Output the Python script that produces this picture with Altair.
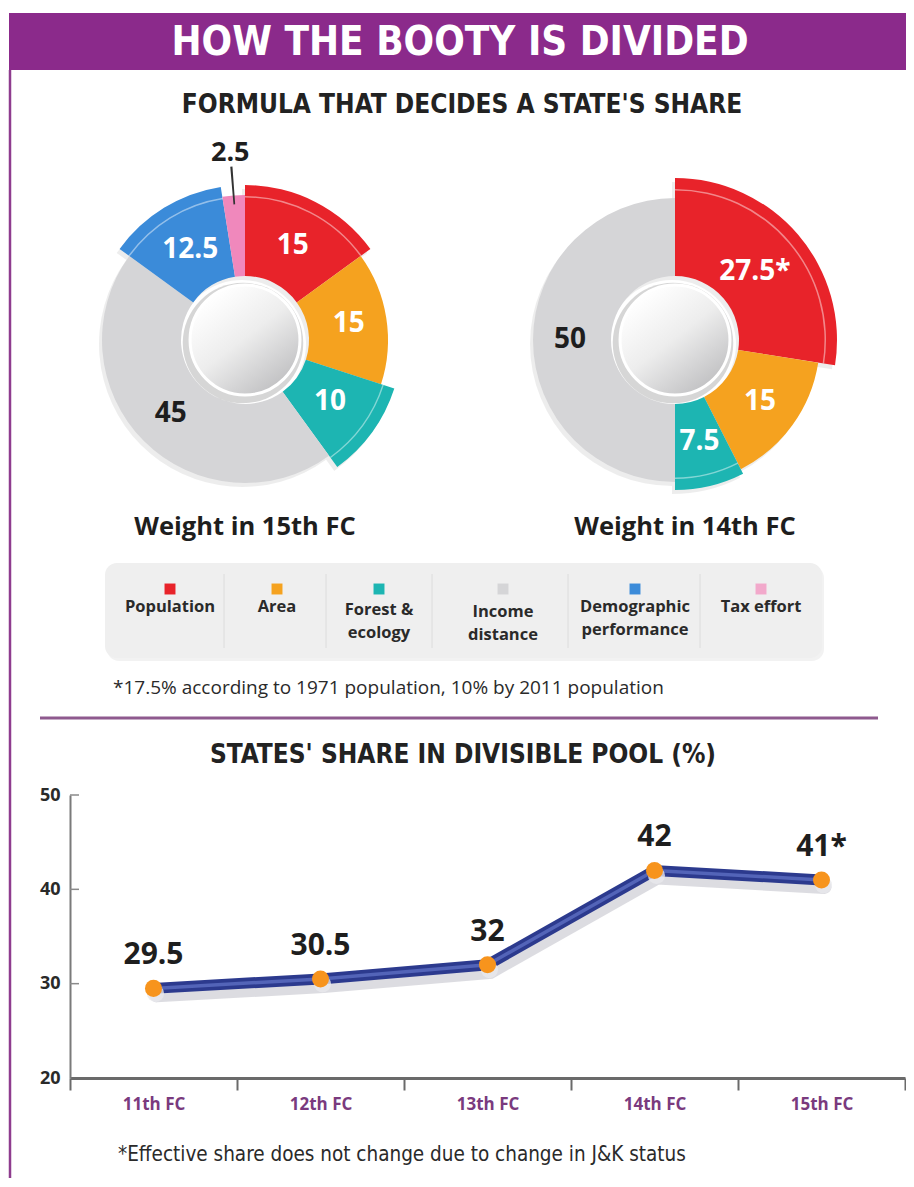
import math
import altair as alt
import pandas as pd

# ---------------- data ----------------
CATEGORIES = ["Population", "Area", "Forest & ecology", "Income distance",
              "Demographic performance", "Tax effort"]
LEGEND_LINES = [["Population"], ["Area"], ["Forest &", "ecology"], ["Income", "distance"],
                ["Demographic", "performance"], ["Tax effort"]]
WEIGHT_15TH = [15, 15, 10, 45, 12.5, 2.5]
LABELS_15TH = ["15", "15", "10", "45", "12.5", "2.5"]
WEIGHT_14TH = [27.5, 15, 7.5, 50]
LABELS_14TH = ["27.5*", "15", "7.5", "50"]

FC = ["11th FC", "12th FC", "13th FC", "14th FC", "15th FC"]
SHARE = [29.5, 30.5, 32, 42, 41]
SHARE_LABELS = ["29.5", "30.5", "32", "42", "41*"]
Y_TICKS = [20, 30, 40, 50]

# ---------------- style ----------------
COLORS = ["#E8232A", "#F5A21F", "#1DB5B2", "#D5D5D7", "#3B8BD9", "#F088BC"]
LEGEND_COLORS = ["#E8232A", "#F5A21F", "#1DB5B2", "#D5D5D7", "#3B8BD9", "#F2A9CB"]
LABEL_COLORS = ["white", "white", "white", "#1E1E1E", "white", "#1E1E1E"]
OUTER_R_15TH = [155, 143, 157, 143, 155, 145]     # "pulled-out" look of slices
OUTER_R_14TH = [162, 145, 150, 142]
INNER_R = 64
PURPLE = "#8B2A8B"
NAVY = "#2C3A8E"
ORANGE = "#F7941D"
DARK = "#1E1E1E"

SANS = "Open Sans"
COND = "Liberation Sans Narrow, DejaVu Sans Condensed, Roboto"

# plot area (line chart) origin in page pixels
OX, OY = 70, 795
W, H = 835, 283


def px(ix):
    return ix - OX


def py(iy):
    return iy - OY


ONE = pd.DataFrame({"k": [0]})
THETA = alt.Scale(domain=[0, 100], range=[0, 2 * math.pi])


def txt(s, ix, iy, size, color=DARK, font=SANS, weight="bold", align="center",
        baseline="middle", **kw):
    return alt.Chart(ONE).mark_text(text=s, font=font, fontSize=size, fontWeight=weight,
                                    color=color, align=align, baseline=baseline, **kw
                                    ).encode(x=alt.value(px(ix)), y=alt.value(py(iy)))


def box(x1, y1, x2, y2, color, **kw):
    return alt.Chart(ONE).mark_rect(color=color, **kw).encode(
        x=alt.value(px(x1)), x2=alt.value(px(x2)), y=alt.value(py(y1)), y2=alt.value(py(y2)))


def hrule(x1, x2, y, color, w):
    return alt.Chart(ONE).mark_rule(color=color, strokeWidth=w).encode(
        x=alt.value(px(x1)), x2=alt.value(px(x2)), y=alt.value(py(y)))


def vrule(x, y1, y2, color, w):
    return alt.Chart(ONE).mark_rule(color=color, strokeWidth=w).encode(
        x=alt.value(px(x)), y=alt.value(py(y1)), y2=alt.value(py(y2)))


def donut_table(values, labels, radii):
    rows, cum = [], 0.0
    for cat, v, lab, r, col, lc in zip(CATEGORIES, values, labels, radii, COLORS, LABEL_COLORS):
        rows.append(dict(cat=cat, value=v, label=lab, t0=cum, t1=cum + v, mid=cum + v / 2,
                         l0=cum + v / 2 - 0.1, l1=cum + v / 2 + 0.1,
                         r=r, rh=r - 11, rh2=r - 12.5, color=col, lcolor=lc))
        cum += v
    return pd.DataFrame(rows)


def donut(values, labels, radii, cx, cy):
    df = donut_table(values, labels, radii)
    X, Y = alt.value(px(cx)), alt.value(py(cy))
    base = alt.Chart(df)
    shadow = base.mark_arc(innerRadius=INNER_R, color="#000000", opacity=0.07,
                           xOffset=-3, yOffset=4).encode(
        theta=alt.Theta("t0:Q", scale=THETA, stack=None), theta2="t1:Q",
        radius=alt.Radius("r:Q", scale=None), x=X, y=Y)
    arcs = base.mark_arc(innerRadius=INNER_R).encode(
        theta=alt.Theta("t0:Q", scale=THETA, stack=None), theta2="t1:Q",
        radius=alt.Radius("r:Q", scale=None),
        color=alt.Color("color:N", scale=None), x=X, y=Y)
    ring = base.transform_filter("datum.r >= 150").mark_arc(color="white", opacity=0.45).encode(
        theta=alt.Theta("t0:Q", scale=THETA, stack=None), theta2="t1:Q",
        radius=alt.Radius("rh:Q", scale=None), radius2="rh2:Q", x=X, y=Y)
    labels_in = base.transform_filter("datum.value >= 5").mark_text(
        font=SANS, fontSize=28, fontWeight="bold").encode(
        theta=alt.Theta("mid:Q", scale=THETA, stack=None), radius=alt.value(105),
        text="label:N", color=alt.Color("lcolor:N", scale=None), x=X, y=Y)
    leader = base.transform_filter("datum.value < 5").mark_arc(color="#333333").encode(
        theta=alt.Theta("l0:Q", scale=THETA, stack=None), theta2="l1:Q",
        radius=alt.value(174), radius2=alt.value(136), x=X, y=Y)
    labels_out = base.transform_filter("datum.value < 5").mark_text(
        font=SANS, fontSize=27, fontWeight="bold").encode(
        theta=alt.Theta("mid:Q", scale=THETA, stack=None), radius=alt.value(188),
        text="label:N", color=alt.Color("lcolor:N", scale=None), x=X, y=Y)
    hub_shadow = alt.Chart(ONE).mark_circle(size=math.pi * 68 ** 2, color="#000000",
                                            opacity=0.16, xOffset=-2, yOffset=3).encode(x=X, y=Y)
    hub = alt.Chart(ONE).mark_circle(
        size=math.pi * 62 ** 2, opacity=1, stroke="white", strokeWidth=3,
        color=alt.LinearGradient(gradient="linear", x1=0.2, y1=0.1, x2=0.85, y2=0.95,
                                 stops=[alt.GradientStop(color="#FFFFFF", offset=0),
                                        alt.GradientStop(color="#EDEDED", offset=0.45),
                                        alt.GradientStop(color="#BDBDBF", offset=1)])
    ).encode(x=X, y=Y)
    return [shadow, arcs, ring, leader, labels_in, labels_out, hub_shadow, hub]


layers = []

# banner and frame
layers.append(box(9, 13, 914, 70, PURPLE))
layers.append(vrule(10, 70, 1190, "#8E3C8E", 2.5))
layers.append(txt("HOW THE BOOTY IS DIVIDED", 460, 43, 40, color="white", font=COND))
layers.append(txt("FORMULA THAT DECIDES A STATE'S SHARE", 462, 105, 26, color="#222222", font=COND))

# donuts
layers += donut(WEIGHT_15TH, LABELS_15TH, OUTER_R_15TH, 245, 340)
layers += donut(WEIGHT_14TH, LABELS_14TH, OUTER_R_14TH, 675, 340)
layers.append(txt("Weight in 15th FC", 245, 527, 25.5))
layers.append(txt("Weight in 14th FC", 685, 527, 25.5))

# legend
layers.append(box(107, 566, 824, 661, "#000000", cornerRadius=12, opacity=0.05))
layers.append(box(105, 563, 822, 658, "#EFEFEF", cornerRadius=12))
for sx in [224, 326, 432, 568, 700]:
    layers.append(vrule(sx, 574, 648, "#DCDCDC", 1))
LEG_X = [170, 277, 379, 503, 635, 761]
LEG_Y = [599, 599, 602, 604, 599, 599]
for lines, col, lx, ly in zip(LEGEND_LINES, LEGEND_COLORS, LEG_X, LEG_Y):
    layers.append(alt.Chart(ONE).mark_square(size=120, color=col, opacity=1).encode(
        x=alt.value(px(lx)), y=alt.value(py(589))))
    layers.append(txt(lines, lx, ly, 16.5, color="#2A2A2A", baseline="top", lineHeight=23))

layers.append(txt("*17.5% according to 1971 population, 10% by 2011 population", 113, 688, 19,
                  color="#2A2A2A", weight="normal", align="left"))
layers.append(hrule(40, 878, 718, "#8E5A8E", 3))
layers.append(txt("STATES' SHARE IN DIVISIBLE POOL (%)", 463, 755, 26, color="#222222", font=COND))

# line chart
line_df = pd.DataFrame({"fc": FC, "share": SHARE, "label": SHARE_LABELS})
XENC = alt.X("fc:N", sort=FC, title=None, bandPosition=0.5,
             scale=alt.Scale(type="band", paddingInner=0, paddingOuter=0),
             axis=alt.Axis(tickBand="extent", tickSize=12, tickWidth=2, tickColor="#6A6A6A",
                           domainColor="#6A6A6A", domainWidth=3, labelAngle=0,
                           labelColor="#7A3A7E", labelFont=SANS, labelFontWeight="bold",
                           labelFontSize=17, labelPadding=6, grid=False))
YENC = alt.Y("share:Q", title=None,
             scale=alt.Scale(domain=[20, 50], nice=False, zero=False),
             axis=alt.Axis(values=Y_TICKS, tickSize=0, domainColor="#7A7A7A", domainWidth=2,
                           labelColor="#2A2A2A", labelFont=SANS, labelFontWeight="bold",
                           labelFontSize=18, labelPadding=10, grid=False))
lc = alt.Chart(line_df)
layers.append(alt.Chart(pd.DataFrame({"share": Y_TICKS[1:]})).mark_rule(
    color="#8A8A8A", strokeWidth=1.5).encode(y=YENC, x=alt.value(0), x2=alt.value(9)))
layers.append(lc.mark_line(color="#BFC0C8", strokeWidth=14, opacity=0.55, xOffset=3,
                           yOffset=7, strokeCap="round").encode(x=XENC, y=YENC))
layers.append(lc.mark_line(color=NAVY, strokeWidth=11, strokeCap="round").encode(x=XENC, y=YENC))
layers.append(lc.mark_line(color="#5364B8", strokeWidth=3.5, strokeCap="round").encode(x=XENC, y=YENC))
layers.append(lc.mark_circle(size=290, color="#E8E8EC", opacity=0.8, xOffset=2, yOffset=5).encode(x=XENC, y=YENC))
layers.append(lc.mark_circle(size=290, color=ORANGE, opacity=1).encode(x=XENC, y=YENC))
layers.append(lc.mark_text(dy=-33, font=SANS, fontSize=30, fontWeight="bold", color=DARK).encode(
    x=XENC, y=YENC, text="label:N"))

layers.append(txt("*Effective share does not change due to change in J&K status", 118, 1155, 20.5,
                  color="#2A2A2A", weight="normal", align="left", font=COND))

chart = alt.layer(*layers).properties(
    width=W, height=H,
    padding={"left": 62, "top": 787, "right": 1, "bottom": 100},
    autosize=alt.AutoSizeParams(type="none"),
    background="white",
).configure_view(stroke=None)

chart.save("out.html", embed_options={"renderer": "svg", "actions": False})
